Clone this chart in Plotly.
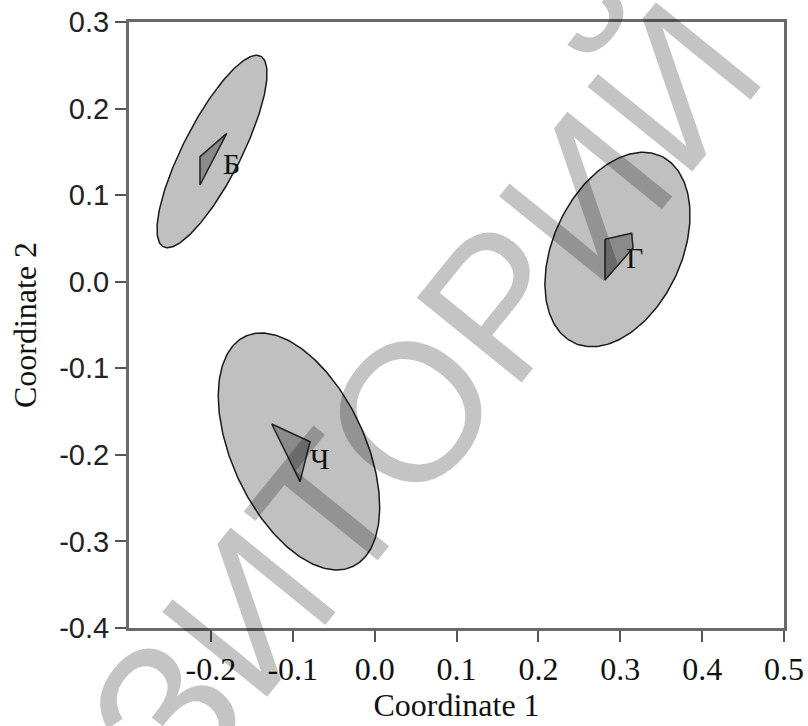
import numpy as np
import plotly.graph_objects as go

# ---- data ----
groups = ["Б", "Г", "Ч"]
# confidence ellipses: centre (x, y), semi-axes (in x-units), angle (deg)
ell_cx = [-0.1986, 0.2966, -0.0924]
ell_cy = [0.1504, 0.0372, -0.1961]
ell_a = [0.1307, 0.1258, 0.1551]
ell_b = [0.0354, 0.0782, 0.0812]
ell_ang = [63, 65, -65]
# convex hulls of group points
hull_x = [[-0.1806, -0.2133, -0.2133],
          [0.2814, 0.3140, 0.3156, 0.2814],
          [-0.1257, -0.0789, -0.0911]]
hull_y = [[0.1714, 0.1444, 0.1117],
          [0.0490, 0.0560, 0.0389, 0.0020],
          [-0.1644, -0.1848, -0.2310]]
label_x = [-0.1746, 0.3176, -0.0672]
label_y = [0.1371, 0.0274, -0.2037]
x_ticks = [-0.2, -0.1, 0.0, 0.1, 0.2, 0.3, 0.4, 0.5]
y_ticks = [-0.4, -0.3, -0.2, -0.1, 0.0, 0.1, 0.2, 0.3]
x_range = [-0.3, 0.5]
y_range = [-0.4, 0.3]

W, H = 808, 726
ML, MR, MT, MB = 129, 24, 22, 98
pw = W - ML - MR
ph = H - MT - MB
yscale = (pw / (x_range[1] - x_range[0])) / (ph / (y_range[1] - y_range[0]))

fig = go.Figure()
t = np.linspace(0, 2 * np.pi, 240)
for i, g in enumerate(groups):
    th = np.radians(ell_ang[i])
    dx = ell_a[i] * np.cos(t) * np.cos(th) - ell_b[i] * np.sin(t) * np.sin(th)
    dy = ell_a[i] * np.cos(t) * np.sin(th) + ell_b[i] * np.sin(t) * np.cos(th)
    fig.add_trace(go.Scatter(x=ell_cx[i] + dx, y=ell_cy[i] + dy * yscale,
                             mode="lines", fill="toself", fillcolor="#c0c0c0",
                             line=dict(color="#1a1a1a", width=1.5),
                             hoverinfo="skip", showlegend=False))
for i, g in enumerate(groups):
    fig.add_trace(go.Scatter(x=hull_x[i] + [hull_x[i][0]], y=hull_y[i] + [hull_y[i][0]],
                             mode="lines", fill="toself", fillcolor="#8a8a8a",
                             line=dict(color="#222222", width=1.5),
                             hoverinfo="skip", showlegend=False))
    fig.add_annotation(x=label_x[i], y=label_y[i], text=g, showarrow=False,
                       font=dict(family="Liberation Serif", size=30, color="#111111"))

fig.add_annotation(xref="paper", yref="paper", x=0.45, y=0.385, text="ЗИТОРИЙ",
                   showarrow=False, textangle=-51,
                   font=dict(family="Liberation Sans", size=196, color="rgba(0,0,0,0.23)"))

axis_common = dict(showgrid=False, zeroline=False, showline=True, linecolor="#6a6a6a",
                   linewidth=3, mirror=True, ticks="outside", ticklen=11, tickwidth=2,
                   tickcolor="#555555")
fig.update_xaxes(range=x_range, tickvals=x_ticks, ticktext=[f"{v:.1f}" for v in x_ticks],
                 tickfont=dict(family="Liberation Serif", size=32, color="#111111"),
                 title=dict(text="Coordinate 1", standoff=2,
                            font=dict(family="Liberation Serif", size=32, color="#111111")),
                 **axis_common)
fig.update_yaxes(range=y_range, tickvals=y_ticks, ticktext=[f"{v:.1f}" for v in y_ticks],
                 tickfont=dict(family="Liberation Sans", size=29, color="#222222"),
                 title=dict(text="Coordinate 2", standoff=14,
                            font=dict(family="Liberation Serif", size=32, color="#111111")),
                 **axis_common)
fig.update_layout(width=W, height=H, margin=dict(l=ML, r=MR, t=MT, b=MB, autoexpand=False),
                  plot_bgcolor="white", paper_bgcolor="white")
fig.write_html("out.html")
